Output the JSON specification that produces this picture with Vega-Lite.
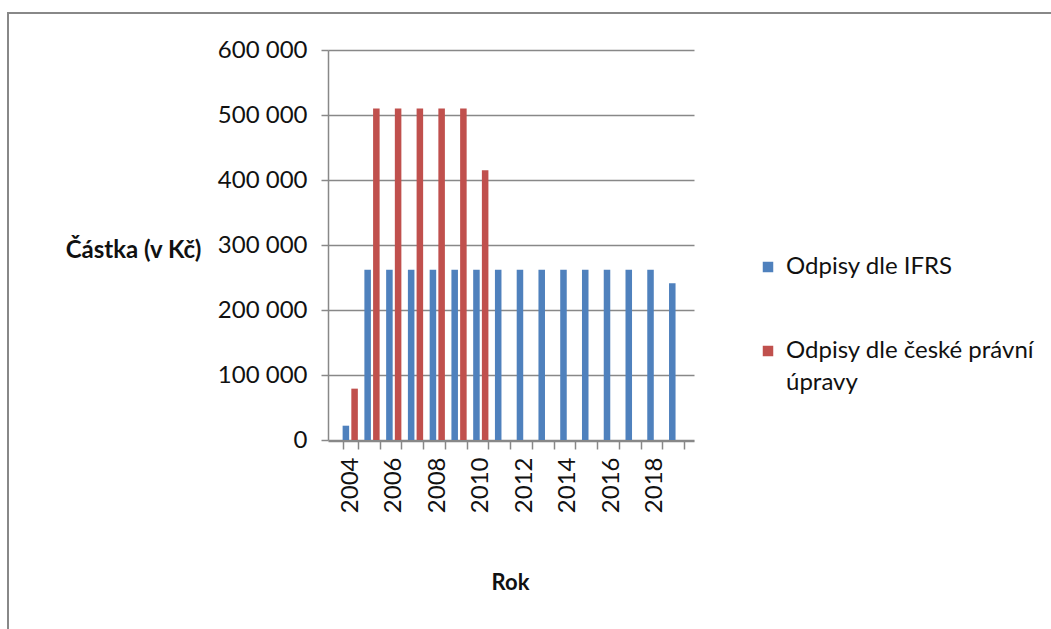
{
  "$schema": "https://vega.github.io/schema/vega-lite/v6.json",
  "autosize": {"type": "none"},
  "padding": {"left": 8, "top": 13, "right": 0, "bottom": 0},
  "width": 1043,
  "height": 616,
  "config": {
    "view": {"stroke": "#888888", "strokeWidth": 2, "strokeDash": [1043, 1659, 616]},
    "locale": {"number": {"decimal": ",", "thousands": " ", "grouping": [3], "currency": ["", " Kč"]}},
    "font": "Lato",
    "axis": {"labelFont": "Lato", "titleFont": "Lato"},
    "legend": {"labelFont": "Lato"},
    "style": {"guide-label": {"lineHeight": 32}}
  },
  "data": {
    "values": [
      {"rok": 2004, "typ": "Odpisy dle IFRS", "castka": 22000},
      {"rok": 2005, "typ": "Odpisy dle IFRS", "castka": 262000},
      {"rok": 2006, "typ": "Odpisy dle IFRS", "castka": 262000},
      {"rok": 2007, "typ": "Odpisy dle IFRS", "castka": 262000},
      {"rok": 2008, "typ": "Odpisy dle IFRS", "castka": 262000},
      {"rok": 2009, "typ": "Odpisy dle IFRS", "castka": 262000},
      {"rok": 2010, "typ": "Odpisy dle IFRS", "castka": 262000},
      {"rok": 2011, "typ": "Odpisy dle IFRS", "castka": 262000},
      {"rok": 2012, "typ": "Odpisy dle IFRS", "castka": 262000},
      {"rok": 2013, "typ": "Odpisy dle IFRS", "castka": 262000},
      {"rok": 2014, "typ": "Odpisy dle IFRS", "castka": 262000},
      {"rok": 2015, "typ": "Odpisy dle IFRS", "castka": 262000},
      {"rok": 2016, "typ": "Odpisy dle IFRS", "castka": 262000},
      {"rok": 2017, "typ": "Odpisy dle IFRS", "castka": 262000},
      {"rok": 2018, "typ": "Odpisy dle IFRS", "castka": 262000},
      {"rok": 2019, "typ": "Odpisy dle IFRS", "castka": 241000},
      {"rok": 2004, "typ": "Odpisy dle české právní úpravy", "castka": 79000},
      {"rok": 2005, "typ": "Odpisy dle české právní úpravy", "castka": 510000},
      {"rok": 2006, "typ": "Odpisy dle české právní úpravy", "castka": 510000},
      {"rok": 2007, "typ": "Odpisy dle české právní úpravy", "castka": 510000},
      {"rok": 2008, "typ": "Odpisy dle české právní úpravy", "castka": 510000},
      {"rok": 2009, "typ": "Odpisy dle české právní úpravy", "castka": 510000},
      {"rok": 2010, "typ": "Odpisy dle české právní úpravy", "castka": 415000}
    ]
  },
  "mark": {"type": "bar"},
  "encoding": {
    "x": {
      "field": "rok",
      "type": "ordinal",
      "scale": {"range": [320, 686], "paddingInner": 0.3, "paddingOuter": 0.56, "align": 0.6},
      "axis": {
        "orient": "bottom",
        "offset": -188,
        "labelAngle": -90,
        "labelAlign": "right",
        "labelBaseline": "middle",
        "labelExpr": "datum.value % 2 == 0 ? datum.label : ''",
        "labelOverlap": false,
        "labelFontSize": 24,
        "labelColor": "#111111",
        "labelPadding": 8,
        "tickBand": "extent",
        "tickSize": 8,
        "tickColor": "#888888",
        "tickWidth": 1.5,
        "domainColor": "#888888",
        "domainWidth": 1.5,
        "title": "Rok",
        "titleFontSize": 22,
        "titleFontWeight": "bold",
        "titleColor": "#111111",
        "titleAngle": 0,
        "titleX": 502,
        "titleY": 141,
        "titleAlign": "center",
        "titleBaseline": "middle"
      }
    },
    "xOffset": {
      "field": "typ",
      "sort": ["Odpisy dle IFRS", "Odpisy dle české právní úpravy"],
      "scale": {"paddingInner": 0.25}
    },
    "y": {
      "field": "castka",
      "type": "quantitative",
      "scale": {"domain": [0, 600000], "range": [427, 37], "nice": false},
      "axis": {
        "orient": "left",
        "offset": -320,
        "values": [0, 100000, 200000, 300000, 400000, 500000, 600000],
        "format": ",d",
        "grid": true,
        "gridColor": "#888888",
        "gridWidth": 1.5,
        "domainColor": "#888888",
        "domainWidth": 1.5,
        "tickColor": "#888888",
        "tickWidth": 1.5,
        "tickSize": 7,
        "labelFontSize": 24,
        "labelColor": "#111111",
        "labelPadding": 14,
        "title": "Částka (v Kč)",
        "titleAngle": 0,
        "titleX": -195,
        "titleY": 237,
        "titleFontSize": 24,
        "titleFontWeight": "bold",
        "titleColor": "#111111",
        "titleAlign": "center",
        "titleBaseline": "middle"
      }
    },
    "color": {
      "field": "typ",
      "type": "nominal",
      "scale": {
        "domain": ["Odpisy dle IFRS", "Odpisy dle české právní úpravy"],
        "range": ["#4F81BD", "#C0504D"]
      },
      "legend": {
        "orient": "none",
        "legendX": 748,
        "legendY": 242,
        "title": null,
        "padding": 0,
        "symbolType": "square",
        "symbolSize": 110,
        "symbolStrokeWidth": 0,
        "labelFontSize": 24,
        "labelColor": "#111111",
        "labelLimit": 400,
        "labelOffset": 6,
        "labelExpr": "datum.label == 'Odpisy dle české právní úpravy' ? ['Odpisy dle české právní', 'úpravy'] : datum.label",
        "rowPadding": 60
      }
    }
  }
}
